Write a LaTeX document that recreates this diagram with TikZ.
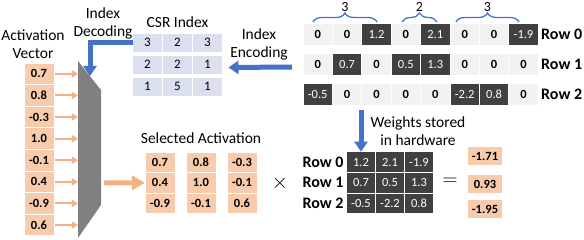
\documentclass[tikz,border=0pt]{standalone}
\usepackage{fontspec}
\setmainfont{Carlito}
\usepackage{tikz}
\usetikzlibrary{arrows.meta,positioning,calc,decorations.pathreplacing}
\definecolor{actfill}{RGB}{248,203,173}
\definecolor{actarrow}{RGB}{244,177,131}
\definecolor{wdark}{RGB}{64,64,64}
\definecolor{wlight}{RGB}{242,242,242}
\definecolor{csrfill}{RGB}{218,224,240}
\definecolor{encblue}{RGB}{68,114,196}
\definecolor{muxgray}{RGB}{128,128,128}

\begin{document}
\begin{tikzpicture}[
  x=1pt, y=-1pt,
  every node/.style={inner sep=0pt, outer sep=0pt},
  lbl/.style={font=\fontsize{15.5}{18}\selectfont, align=center},
  rowlbl/.style={font=\fontsize{16}{18}\selectfont\bfseries},
  numfont/.style={font=\fontsize{12.5}{14}\selectfont\bfseries},
  actcell/.style={numfont, rectangle, fill=actfill, draw=white, line width=0.8pt, minimum width=30pt, minimum height=21.6pt},
  selcell/.style={actcell, minimum height=20.3pt},
  rescell/.style={numfont, rectangle, fill=actfill, minimum width=34pt, minimum height=18pt},
  csrcell/.style={rectangle, fill=csrfill, draw=white, line width=0.8pt, minimum width=30pt, minimum height=19pt, font=\fontsize{13}{14}\selectfont},
  zerocell/.style={numfont, rectangle, fill=wlight, draw=white, line width=0.8pt, minimum width=29.4pt, minimum height=22pt},
  nzcell/.style={rectangle, fill=wdark, draw=white, line width=0.8pt, minimum width=29.4pt, minimum height=22pt, text=white, font=\fontsize{12.5}{14}\selectfont},
  cmpcell/.style={nzcell, minimum width=29pt, minimum height=20.7pt},
  countbrace/.style={draw=encblue, line width=1.3pt, decorate, decoration={brace, amplitude=9pt}},
  bracelbl/.style={font=\fontsize{14}{16}\selectfont, midway, above=10pt},
  thinarrow/.style={draw=actarrow, line width=2pt, -{Triangle[length=6pt, width=7pt]}},
  bigarrow/.style={draw=actarrow, line width=5pt, -{Triangle[length=13pt, width=14pt]}},
  bluearrow/.style={draw=encblue, line width=5pt, -{Triangle[length=10pt, width=13pt]}}
]
\useasboundingbox (0,0) rectangle (584,240);

\coordinate (muxtl) at (78,61);
\coordinate (muxtr) at (101,90);
\coordinate (muxbr) at (101,205);
\coordinate (muxbl) at (78,238);
\fill[muxgray] (muxtl) -- (muxtr) -- (muxbr) -- (muxbl) -- cycle;

\node[lbl] (actlbl) at (33,44.5) {Activation\\Vector};
\foreach \v [count=\i from 0] in {0.7,0.8,-0.3,1.0,-0.1,0.4,-0.9,0.6} {
  \node[actcell] (a\i) at (39,73.8+21.6*\i) {\v};
  \draw[thinarrow] ([xshift=1pt]a\i.east) -- (a\i.east -| muxtl);
}

\foreach \r/\vals in {0/{3,2,3},1/{2,2,1},2/{1,5,1}} {
  \foreach \v [count=\j from 0] in \vals {
    \node[csrcell] (c\r\j) at (147.5+30*\j,42.5+22*\r) {\v};
  }
}
\node[lbl, above=5pt of c01] (csrlbl) {CSR Index};
\node[lbl] (declbl) at (103,23) {Index\\Decoding};
\coordinate (decin) at (90,76);
\draw[bluearrow] (c00.west) -| (decin);

\foreach \r/\vals in {0/{0,0,1.2,0,2.1,0,0,-1.9},1/{0,0.7,0,0.5,1.3,0,0,0},2/{-0.5,0,0,0,0,-2.2,0.8,0}} {
  \foreach \v [count=\j from 0] in \vals {
    \ifdim\v pt=0pt
      \node[zerocell] (w\r\j) at (317.7+29.4*\j,34+30*\r) {\v};
    \else
      \node[nzcell] (w\r\j) at (317.7+29.4*\j,34+30*\r) {\v};
    \fi
  }
  \node[rowlbl, right=3pt of w\r7] (wl\r) {Row \r};
}
\draw[countbrace] (313,22) -- node[bracelbl] (b0) {3} (377,22);
\draw[countbrace] (402,22) -- node[bracelbl] (b1) {2} (437,22);
\draw[countbrace] (456,22) -- node[bracelbl] (b2) {3} (519,22);

\node[lbl] (enclbl) at (259,44) {Index\\Encoding};
\draw[bluearrow] ($(w10.west)+(-11,3)$) -- ($(c12.east)+(6,3)$);

\foreach \j/\vals in {0/{0.7,0.4,-0.9},1/{0.8,1.0,-0.1},2/{-0.3,-0.1,0.6}} {
  \foreach \v [count=\r from 0] in \vals {
    \node[selcell] (s\r\j) at (160+41*\j,162.5+20.3*\r) {\v};
  }
}
\node[lbl, above=9pt of s01] (sellbl) {Selected Activation};
\coordinate (muxout) at (104,183);
\draw[bigarrow] (muxout) -- (s10.west);

\node[font=\fontsize{20}{20}\selectfont] (times) at (280,183) {$\times$};

\foreach \r/\vals in {0/{1.2,2.1,-1.9},1/{0.7,0.5,1.3},2/{-0.5,-2.2,0.8}} {
  \foreach \v [count=\j from 0] in \vals {
    \node[cmpcell] (m\r\j) at (361+29*\j,162+20.7*\r) {\v};
  }
  \node[rowlbl, left=3pt of m\r0] (ml\r) {Row \r};
}
\node[lbl] (hwlbl) at (418,131) {Weights stored\\in hardware};
\draw[bluearrow] (m00.north |- w21.south) ++(0,5) -- (m00.north);

\node[font=\fontsize{22}{22}\selectfont] (eq) at (450,182) {$=$};
\foreach \v/\y [count=\i from 0] in {-1.71/156,0.93/184,-1.95/209.5}
  \node[rescell] (r\i) at (485,\y) {\v};
\end{tikzpicture}
\end{document}
